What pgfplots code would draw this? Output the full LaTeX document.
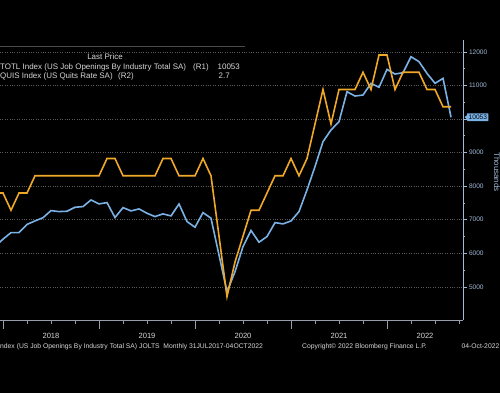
\documentclass[border=0pt]{standalone}
\usepackage{pgfplots}
\pgfplotsset{compat=1.18}
\usepackage{pgfplotstable}
\usepackage{fontspec}
\setmainfont{Liberation Sans}
\definecolor{jblue}{RGB}{122,178,230}
\definecolor{qorange}{RGB}{240,168,40}
\definecolor{gridc}{RGB}{90,90,90}
\definecolor{axc}{RGB}{150,158,170}
\definecolor{ytc}{RGB}{160,185,215}
\definecolor{txt}{RGB}{215,215,215}

\pgfplotstableread{
m v
-2 6100
-1 6200
0 6420
1 6616
2 6616
3 6860
4 6964
5 7060
6 7272
7 7242
8 7252
9 7371
10 7391
11 7589
12 7470
13 7510
14 7064
15 7361
16 7262
17 7322
18 7192
19 7094
20 7173
21 7113
22 7470
23 6945
24 6776
25 7212
26 7044
27 5950
28 4850
29 5450
30 6200
31 6680
32 6330
33 6498
34 6915
35 6875
36 6964
37 7243
38 7887
39 8582
40 9325
41 9673
42 9921
43 10813
44 10684
45 10714
46 11062
47 10943
48 11478
49 11339
50 11379
51 11855
52 11706
53 11359
54 11062
55 11210
56 10053
}\jobs

\pgfplotstableread{
m q
-2 2.2
-1 2.2
0 2.2
1 2.1
2 2.2
3 2.2
4 2.3
5 2.3
6 2.3
7 2.3
8 2.3
9 2.3
10 2.3
11 2.3
12 2.3
13 2.4
14 2.4
15 2.3
16 2.3
17 2.3
18 2.3
19 2.3
20 2.4
21 2.4
22 2.3
23 2.3
24 2.3
25 2.4
26 2.3
27 1.95
28 1.6
29 1.8
30 1.95
31 2.1
32 2.1
33 2.2
34 2.3
35 2.3
36 2.4
37 2.3
38 2.4
39 2.6
40 2.8
41 2.6
42 2.8
43 2.8
44 2.8
45 2.9
46 2.8
47 3.0
48 3.0
49 2.8
50 2.9
51 2.9
52 2.9
53 2.8
54 2.8
55 2.7
56 2.7
}\quits

\begin{document}
\begin{tikzpicture}[x=1bp,y=1bp]
\useasboundingbox (0,0) rectangle (500,393);
\fill[black] (0,0) rectangle (500,393);
\clip (0,0) rectangle (500,393);

\begin{axis}[
  at={(0bp,73bp)}, anchor=south west,
  width=463bp, height=280bp, scale only axis,
  xmin=-0.375, xmax=57.5, ymin=4013, ymax=12353,
  axis x line*=bottom, axis y line*=right,
  x axis line style={axc, line width=0.6bp},
  y axis line style={ytc, line width=0.6bp},
  xtick=\empty,
  scaled y ticks=false,
  ytick={5000,6000,7000,8000,9000,10000,11000,12000},
  yticklabels={5000,6000,7000,8000,9000,{},11000,12000},
  minor y tick num=1,
  ytick align=outside,
  major tick length=3.5bp, minor tick length=2bp,
  ytick style={ytc, line width=0.6bp},
  yticklabel style={font=\fontsize{6.6}{7}\selectfont, text=ytc, xshift=-1bp},
  ymajorgrids,
  grid style={gridc, dotted, line width=0.5bp},
]
\addplot[jblue, line width=1.6bp] table[x=m, y=v] {\jobs};
\end{axis}

\begin{axis}[
  at={(0bp,73bp)}, anchor=south west,
  width=463bp, height=280bp, scale only axis,
  xmin=-0.375, xmax=57.5, ymin=1.464, ymax=3.087,
  axis lines=none, ticks=none,
]
\addplot[qorange, line width=1.6bp] table[x=m, y=q] {\quits};
\end{axis}

% x ticks
\foreach \m in {3,6,...,57} \draw[axc, line width=0.6bp] ({3+8*\m},73) -- ++(0,-4);
\foreach \m in {0,12,24,36,48} \draw[axc, line width=0.6bp] ({3+8*\m},73) -- ++(0,-9);

% year labels
\begin{scope}[font=\fontsize{7.6}{8}\selectfont, text=txt]
\node[anchor=base] at (51,54.7) {2018};
\node[anchor=base] at (147,54.7) {2019};
\node[anchor=base] at (243,54.7) {2020};
\node[anchor=base] at (339,54.7) {2021};
\node[anchor=base] at (425,54.7) {2022};
\end{scope}

% last value tag
\node[fill=jblue, text=black, font=\fontsize{6.6}{7}\selectfont, inner xsep=1.5bp, inner ysep=1.6bp, anchor=west, rounded corners=0.5bp] at (467,275.8) {10053};
\fill[jblue] (464.5,275.8) -- (467.5,278.3) -- (467.5,273.3) -- cycle;

% Thousands
\node[rotate=-90, font=\fontsize{8}{9}\selectfont, text=ytc] at (497,221) {Thousands};

% legend
\draw[gray!60!black, line width=0.5bp] (0,347) -- (245,347);
\begin{scope}[font=\fontsize{8}{9}\selectfont, text=txt]
\node[anchor=base] at (105,333.5) {Last Price};
\node[anchor=base west, inner sep=0] at (0,323.5) {TOTL Index (US Job Openings By Industry Total SA)};
\node[anchor=base west, inner sep=0] at (193,323.5) {(R1)};
\node[anchor=base east, inner sep=0] at (240,323.5) {10053};
\node[anchor=base west, inner sep=0] at (0,314.5) {QUIS Index (US Quits Rate SA)};
\node[anchor=base west, inner sep=0] at (118,314.5) {(R2)};
\node[anchor=base east, inner sep=0] at (230,314.5) {2.7};
\end{scope}

% footer
\begin{scope}[font=\fontsize{6.8}{8}\selectfont, text=txt]
\node[anchor=base west, inner sep=0] at (0,44.5) {ndex (US Job Openings By Industry Total SA) JOLTS\ \ Monthly 31JUL2017-04OCT2022};
\node[anchor=base west, inner sep=0] at (302,44.5) {Copyright© 2022 Bloomberg Finance L.P.};
\node[anchor=base east, inner sep=0] at (499.5,44.5) {04-Oct-2022};
\end{scope}
\end{tikzpicture}
\end{document}
